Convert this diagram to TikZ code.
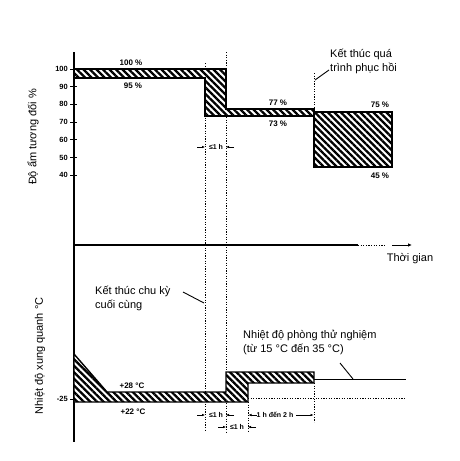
\documentclass[tikz,border=0pt]{standalone}
\usepackage{fontspec}
\setmainfont{Liberation Sans}
\usetikzlibrary{patterns.meta,arrows.meta}
\begin{document}
\begin{tikzpicture}[x=1pt,y=-1pt,
  hatch/.style={draw=black,line width=1.4pt,preaction={fill=white},pattern={Lines[angle=-45,distance=4.6pt,line width=2.3pt]}},
  dotline/.style={line width=0.9pt,dash pattern=on 1.2pt off 1.4pt},
  axisline/.style={line width=1.1pt},
  lbl/.style={font=\fontsize{11}{13.5}\selectfont,align=left,inner sep=0pt},
  pct/.style={font=\bfseries\fontsize{8}{9}\selectfont,inner sep=0pt},
  ticklbl/.style={font=\bfseries\fontsize{7.5}{8}\selectfont,inner sep=0pt,anchor=east},
  dimlbl/.style={font=\bfseries\fontsize{7}{8}\selectfont,inner sep=0pt},
  dimarrow/.style={-{Latex[length=3pt,width=2.6pt]},line width=0.6pt},
  leader/.style={line width=0.9pt}]
\useasboundingbox (0,0) rectangle (459,461);

% vertical dotted guide lines
\draw[dotline] (205,63) -- (205,431);
\draw[dotline] (226,52) -- (226,432);
\draw[dotline] (314,73) -- (314,112);
\draw[dotline] (248,402) -- (248,432);
\draw[dotline] (314,383) -- (314,422);
\draw[dotline] (248,398) -- (406,398);

% axes
\draw[axisline] (74,52) -- (74,442);
\draw[axisline] (74,245) -- (358,245);
\draw[dotline] (358,245) -- (386,245);
\draw[line width=1pt,-{Latex[length=4pt,width=3.5pt]}] (392,245) -- (412,245);
\node[lbl] (tg) at (410,259) {Thời gian};

% humidity ticks
\foreach \v in {100,90,80,70,60,50,40}{
  \pgfmathsetmacro\yy{69+(100-\v)*1.77}
  \draw[line width=0.8pt] (70,\yy) -- (77,\yy);
  \node[ticklbl] (tk\v) at (68,\yy) {\v};
}
\draw[line width=0.8pt] (70,399) -- (77,399);
\node[ticklbl] (tk25) at (68,399) {-25};

% humidity hatched regions
\draw[hatch] (74,69) -- (226,69) -- (226,109) -- (314,109) -- (314,116) -- (205,116) -- (205,78) -- (74,78) -- cycle;
\draw[hatch] (314,112) rectangle (392,167);

% temperature hatched region
\draw[hatch] (74,354) -- (107,392) -- (226,392) -- (226,372) -- (314,372) -- (314,383) -- (248,383) -- (248,402) -- (74,402) -- cycle;
\draw[leader] (314,379) -- (406,379);

% percentage labels
\node[pct] (p100) at (131,63) {100 \%};
\node[pct] (p95) at (133,86) {95 \%};
\node[pct] (p77) at (278,103) {77 \%};
\node[pct] (p73) at (278,124) {73 \%};
\node[pct] (p75) at (380,105) {75 \%};
\node[pct] (p45) at (380,176) {45 \%};
\node[pct] (c28) at (132,386) {+28 °C};
\node[pct] (c22) at (133,412) {+22 °C};

% axis titles
\node[lbl,rotate=90] (ylh) at (33,137) {Độ ẩm tương đối \%};
\node[lbl,rotate=90] (ylt) at (40,356) {Nhiệt độ xung quanh °C};

% annotations
\node[lbl,anchor=north west] (kq) at (330,49) {Kết thúc quá\\trình phục hồi};
\coordinate (kqa) at (329,70);
\coordinate (kqb) at (315,80);
\draw[leader] (kqa) -- (kqb);

\node[lbl,anchor=north west] (kc) at (95,286) {Kết thúc chu kỳ\\cuối cùng};
\coordinate (kca) at (183,292);
\coordinate (kcb) at (204,303);
\draw[leader] (kca) -- (kcb);

\node[lbl,anchor=north west] (np) at (243,330) {Nhiệt độ phòng thử nghiệm\\(từ 15 °C đến 35 °C)};
\coordinate (npa) at (340,363);
\coordinate (npb) at (353,379);
\draw[leader] (npa) -- (npb);

% dimensions
\node[dimlbl] (d1) at (216,147) {≤1 h};
\coordinate (d1a) at (197,147); \coordinate (d1b) at (205,147);
\coordinate (d1c) at (234,147); \coordinate (d1d) at (226,147);
\draw[dimarrow] (d1a) -- (d1b);
\draw[dimarrow] (d1c) -- (d1d);

\node[dimlbl] (d2) at (216,415) {≤1 h};
\coordinate (d2a) at (197,415); \coordinate (d2b) at (205,415);
\coordinate (d2c) at (234,415); \coordinate (d2d) at (226,415);
\draw[dimarrow] (d2a) -- (d2b);
\draw[dimarrow] (d2c) -- (d2d);

\node[dimlbl] (d3) at (237,427) {≤1 h};
\coordinate (d3a) at (218,427); \coordinate (d3b) at (226,427);
\coordinate (d3c) at (256,427); \coordinate (d3d) at (248,427);
\draw[dimarrow] (d3a) -- (d3b);
\draw[dimarrow] (d3c) -- (d3d);

\node[dimlbl] (d4) at (275,415) {1 h đến 2 h};
\coordinate (d4a) at (257,415); \coordinate (d4b) at (248.5,415);
\coordinate (d4c) at (296,415); \coordinate (d4d) at (313.5,415);
\draw[dimarrow] (d4a) -- (d4b);
\draw[dimarrow] (d4c) -- (d4d);
\end{tikzpicture}
\end{document}
